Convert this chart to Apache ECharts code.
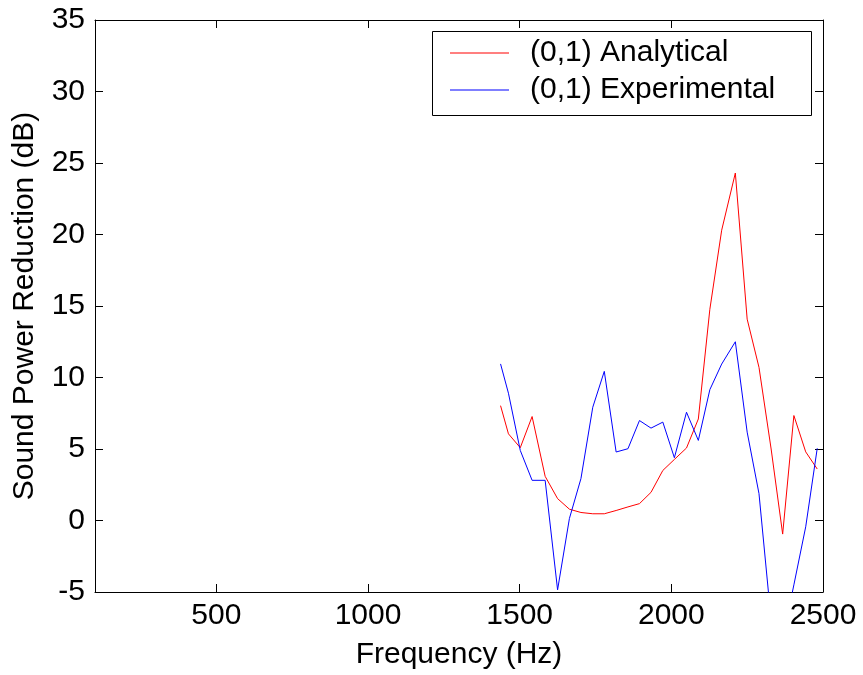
<!DOCTYPE html>
<html>
<head>
<meta charset="utf-8">
<script src="https://cdn.jsdelivr.net/npm/echarts@6/dist/echarts.min.js"></script>
<style>
  html, body { margin: 0; padding: 0; background: #fff; }
  #chart { width: 863px; height: 675px; }
</style>
</head>
<body>
<div id="chart"></div>
<script>
// Frequencies (Hz) at which both curves were evaluated
const frequency = [1437, 1463, 1502, 1541, 1584, 1625, 1664, 1702, 1741, 1779,
                   1818, 1857, 1895, 1933, 1972, 2010, 2050, 2089, 2127, 2166,
                   2211, 2250, 2289, 2329, 2367, 2404, 2443, 2481];

// Sound power reduction (dB), (0,1) mode
const analytical = [8.03, 6.06, 5.09, 7.27, 3.09, 1.53, 0.79, 0.56, 0.47, 0.47,
                    0.70, 0.95, 1.18, 1.97, 3.50, 4.27, 5.07, 7.10, 14.77, 20.30,
                    24.30, 14.08, 10.71, 5.00, -0.95, 7.34, 4.80, 3.60];
const experimental = [10.95, 8.90, 4.90, 2.81, 2.81, -4.85, 0.14, 2.93, 7.92, 10.43,
                      4.79, 5.02, 6.99, 6.46, 6.88, 4.39, 7.57, 5.60, 9.15, 10.94,
                      12.50, 6.18, 1.88, -6.97, -8.30, -4.50, -0.44, 5.05];

const seriesNames = ['(0,1) Analytical', '(0,1) Experimental'];
const xTicks = [500, 1000, 1500, 2000, 2500];

const FONT = 'Liberation Sans, Arial, Helvetica, sans-serif';
const FS = 30;

const pairs = (xs, ys) => xs.map((x, i) => [x, ys[i]]);
const plain = v => String(v);

const chart = echarts.init(document.getElementById('chart'), null, { renderer: 'canvas' });

const xBase = {
  type: 'value', min: 100, max: 2500,
  splitLine: { show: false },
  axisLine: { show: true, onZero: false, lineStyle: { color: '#000', width: 1 } },
  axisTick: { show: true, inside: true, length: 8, customValues: xTicks, lineStyle: { color: '#000' } }
};
const yBase = {
  type: 'value', min: -5, max: 35, interval: 5,
  splitLine: { show: false },
  axisLine: { show: true, onZero: false, lineStyle: { color: '#000', width: 1 } },
  axisTick: { show: true, inside: true, length: 8, lineStyle: { color: '#000' } }
};

chart.setOption({
  animation: false,
  backgroundColor: '#fff',
  textStyle: { fontFamily: FONT },
  grid: { left: 95, top: 20, right: 40, bottom: 79, show: false },
  xAxis: [
    Object.assign({}, xBase, {
      position: 'bottom',
      name: 'Frequency (Hz)', nameLocation: 'middle', nameGap: 48,
      nameTextStyle: { fontSize: FS, color: '#000', fontFamily: FONT },
      axisLabel: { show: true, customValues: xTicks, formatter: plain, fontSize: FS, color: '#000', margin: 9, fontFamily: FONT }
    }),
    Object.assign({}, xBase, { position: 'top', axisLabel: { show: false } })
  ],
  yAxis: [
    Object.assign({}, yBase, {
      position: 'left',
      name: 'Sound Power Reduction (dB)', nameLocation: 'middle', nameGap: 55,
      nameTextStyle: { fontSize: FS, color: '#000', fontFamily: FONT },
      axisLabel: { show: true, formatter: plain, fontSize: FS, color: '#000', margin: 10, fontFamily: FONT }
    }),
    Object.assign({}, yBase, { position: 'right', axisLabel: { show: false } })
  ],
  legend: {
    orient: 'vertical',
    left: 450, top: 38,
    padding: 0,
    itemGap: 7,
    itemWidth: 59, itemHeight: 1,
    icon: 'rect',
    textStyle: { fontSize: FS, color: '#000', fontFamily: FONT, padding: [0, 0, 0, 16] },
    data: seriesNames
  },
  graphic: [{
    type: 'rect',
    shape: { x: 432.5, y: 31.5, width: 379, height: 84 },
    style: { fill: 'none', stroke: '#000', lineWidth: 1 },
    z: 100, silent: true
  }],
  series: [
    {
      name: seriesNames[0], type: 'line', data: pairs(frequency, analytical),
      symbol: 'none', clip: true,
      lineStyle: { color: '#ff0000', width: 1 }, itemStyle: { color: '#ff0000' }
    },
    {
      name: seriesNames[1], type: 'line', data: pairs(frequency, experimental),
      symbol: 'none', clip: true,
      lineStyle: { color: '#0000ff', width: 1 }, itemStyle: { color: '#0000ff' }
    }
  ]
});
</script>
</body>
</html>
